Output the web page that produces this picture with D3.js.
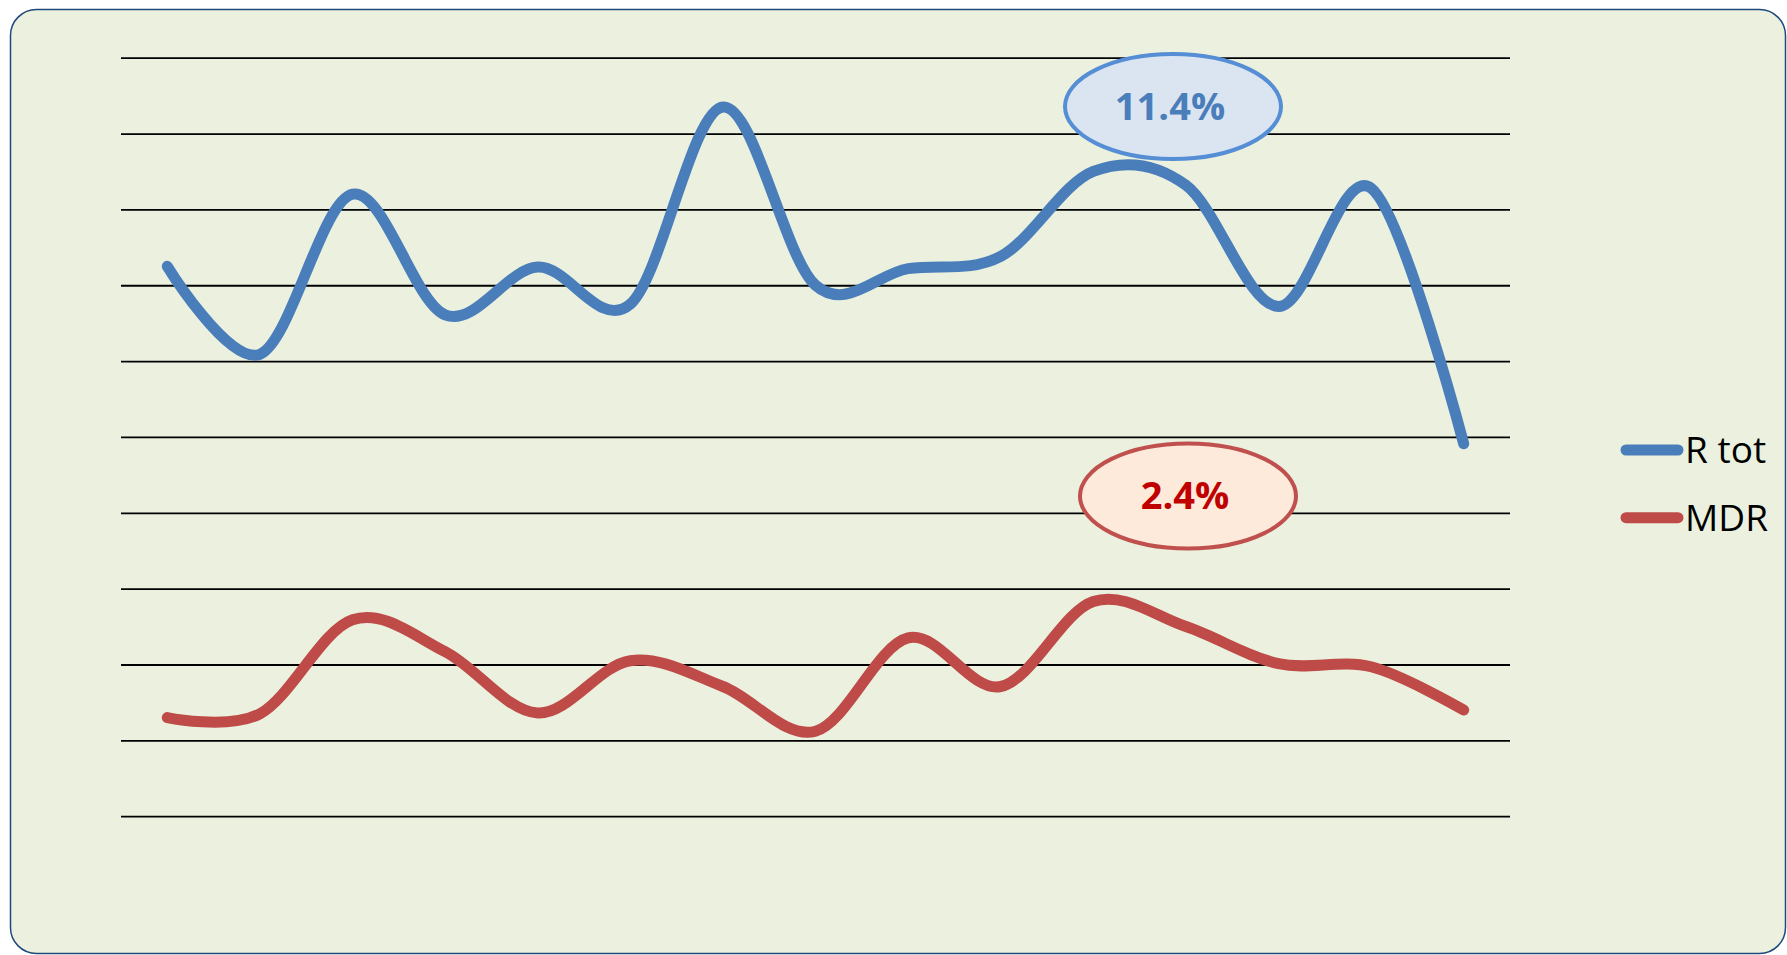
<!DOCTYPE html>
<html>
<head>
<meta charset="utf-8">
<script src="https://cdn.jsdelivr.net/npm/d3@7"></script>
<style>
body{margin:0;background:#fff;}
svg{display:block;}
</style>
</head>
<body>
<script>
var width=1787;
var height=955;
var margin={top:57.7,right:277,bottom:138.8,left:121};

// 15 periods, no axis labels shown on the chart
var categories=["1","2","3","4","5","6","7","8","9","10","11","12","13","14","15"];
var rtot=[7.25,6.09,8.20,6.61,7.24,6.75,9.35,7.00,7.22,7.38,8.50,8.32,6.72,8.28,4.91];
var mdr=[1.30,1.35,2.59,2.17,1.36,2.05,1.71,1.12,2.35,1.71,2.83,2.50,2.01,1.97,1.40];
var gridValues=[0,1,2,3,4,5,6,7,8,9,10];
var seriesNames=["R tot","MDR"];
var seriesColors=["#4a7ebb","#be4b48"];
var notes=[{text:"11.4%",fill:"#dbe5f1",stroke:"#558ed5",color:"#4a7ebb"},
           {text:"2.4%",fill:"#fdeada",stroke:"#c0504d",color:"#c00000"}];

var svg=d3.select("body").append("svg").attr("width",width).attr("height",height);

// chart frame
svg.append("rect")
    .attr("x",10.5).attr("y",9.5)
    .attr("width",1775).attr("height",944)
    .attr("rx",26).attr("ry",26)
    .attr("fill","#ebf1de")
    .attr("stroke","#1f497d")
    .attr("stroke-width",1.5);

var x=d3.scaleBand().domain(categories).range([margin.left,width-margin.right]);
var y=d3.scaleLinear().domain([0,10]).range([height-margin.bottom,margin.top]);

// horizontal gridlines
var grid=svg.append("g")
    .attr("transform","translate("+margin.left+",0)")
    .call(d3.axisLeft(y).tickValues(gridValues).tickSize(-(width-margin.right-margin.left)).tickFormat(""));
grid.select(".domain").remove();
grid.selectAll(".tick line").attr("stroke","#000").attr("stroke-width",1.8);

var line=d3.line()
    .x(function(d,i){return x(categories[i])+x.bandwidth()/2;})
    .y(function(d){return y(d);})
    .curve(d3.curveCatmullRom.alpha(0));

svg.selectAll(".series")
    .data([rtot,mdr])
    .enter().append("path")
    .attr("class","series")
    .attr("d",line)
    .attr("fill","none")
    .attr("stroke",function(d,i){return seriesColors[i];})
    .attr("stroke-width",11)
    .attr("stroke-linecap","round")
    .attr("stroke-linejoin","round");

// callout ellipses
var noteCx=[1173,1188];
var noteCy=[106.5,496];
var note=svg.selectAll(".note").data(notes).enter().append("g").attr("class","note");
note.append("ellipse")
    .attr("cx",function(d,i){return noteCx[i];})
    .attr("cy",function(d,i){return noteCy[i];})
    .attr("rx",108).attr("ry",52.5)
    .attr("fill",function(d){return d.fill;})
    .attr("stroke",function(d){return d.stroke;})
    .attr("stroke-width",4);
note.append("text")
    .attr("x",function(d,i){return noteCx[i]-3;})
    .attr("y",function(d,i){return noteCy[i]+13;})
    .attr("text-anchor","middle")
    .attr("font-family","'Open Sans',sans-serif")
    .attr("font-weight","bold")
    .attr("font-size","38px")
    .attr("fill",function(d){return d.color;})
    .text(function(d){return d.text;});

// legend
var legend=svg.selectAll(".legend").data(seriesNames).enter().append("g")
    .attr("class","legend")
    .attr("transform",function(d,i){return "translate(1626,"+(450+i*67.7)+")";});
legend.append("line")
    .attr("x1",0).attr("x2",52).attr("y1",0).attr("y2",0)
    .attr("stroke",function(d,i){return seriesColors[i];})
    .attr("stroke-width",11)
    .attr("stroke-linecap","round");
legend.append("text")
    .attr("x",59).attr("y",13)
    .attr("font-family","'Open Sans',sans-serif")
    .attr("font-size","37px")
    .attr("fill","#000")
    .text(function(d){return d;});
</script>
</body>
</html>
